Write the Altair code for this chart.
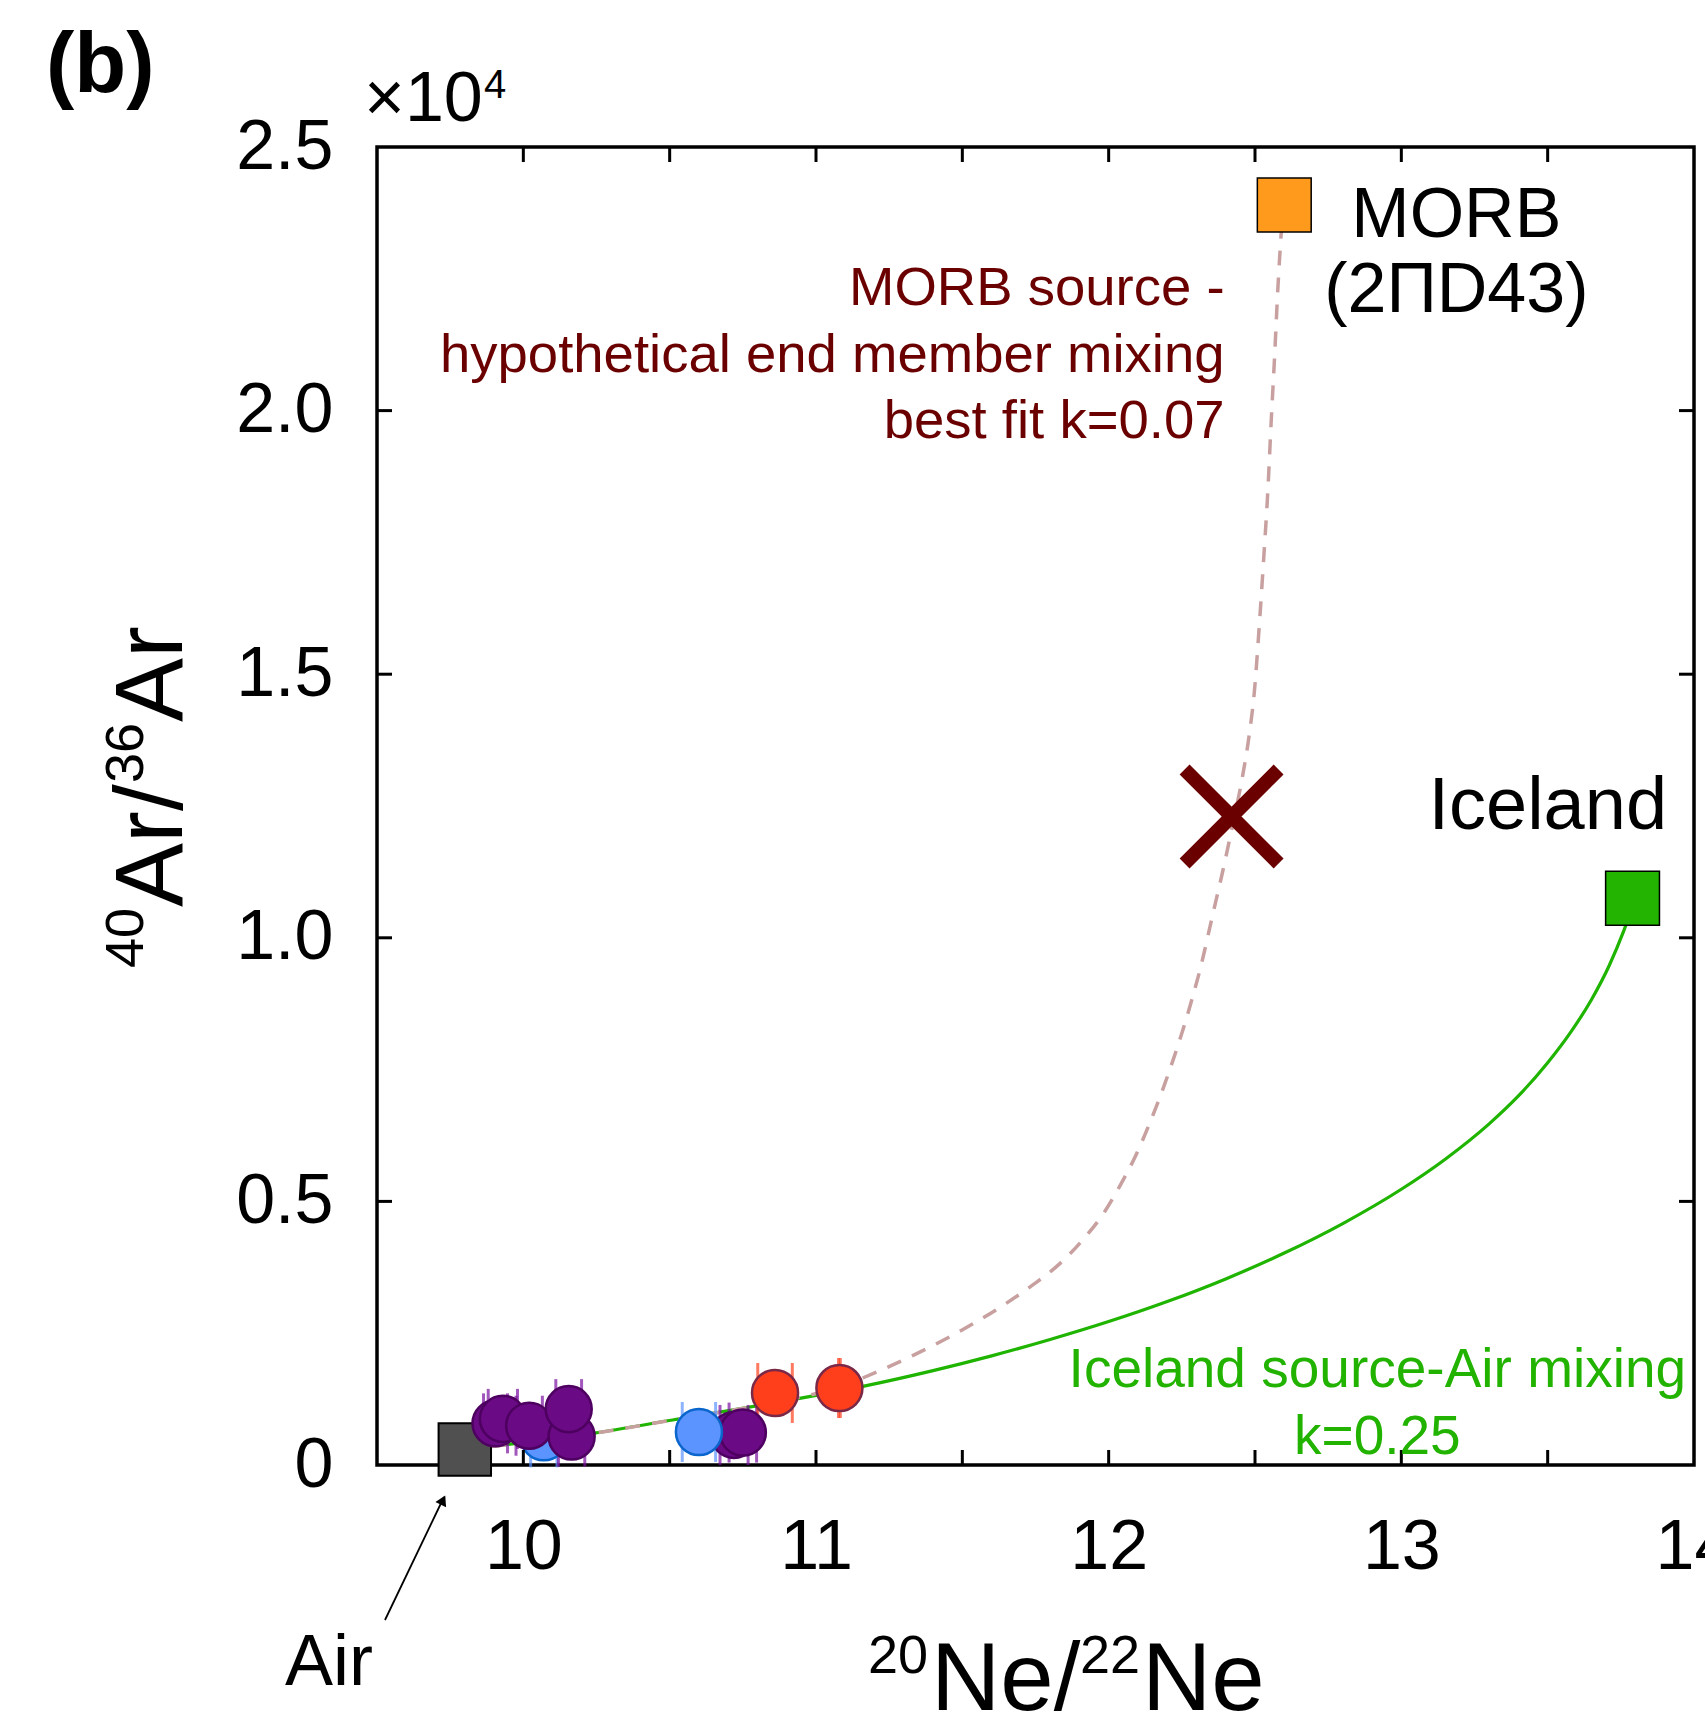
import altair as alt
import pandas as pd

FONT = "Liberation Sans"
L, T = 377, 147          # plot-area offset inside the 1705x1729 page
W, H = 1317, 1318        # plot-area size

# ---------------- data ----------------
# Iceland source - Air mixing curve (k = 0.25)
green_x = [9.80, 10.24, 10.51, 10.86, 11.16, 11.40, 11.60, 11.80, 12.00, 12.20,
           12.40, 12.60, 12.80, 13.00, 13.15, 13.30, 13.40, 13.50, 13.58, 13.65,
           13.71, 13.76, 13.80]
green_y = [296, 601, 853, 1180, 1491, 1790, 2070, 2380, 2720, 3100,
           3530, 4020, 4580, 5230, 5800, 6470, 7000, 7630, 8220, 8830,
           9470, 10130, 10750]

# MORB source - hypothetical end member mixing curve (k = 0.07)
dash_x = [9.80, 10.24, 10.51, 10.86, 11.08, 11.218, 11.332, 11.446, 11.537, 11.64,
          11.742, 11.833, 11.913, 11.981, 12.038, 12.095, 12.14, 12.174, 12.22, 12.254,
          12.288, 12.311, 12.356, 12.384, 12.424, 12.458, 12.479, 12.498, 12.515, 12.53,
          12.544, 12.555, 12.567, 12.578, 12.589, 12.597]
dash_y = [296, 601, 853, 1190, 1480, 1790, 2080, 2400, 2680, 3030,
          3420, 3820, 4280, 4760, 5290, 5900, 6480, 6960, 7680, 8260,
          8900, 9370, 10450, 11120, 12150, 13080, 13800, 14680, 15950, 17220,
          18490, 19760, 21030, 22300, 23317, 23900]

# samples (drawing order matters: later ones on top)
pt_group = ["blue", "purple", "purple", "purple", "purple", "purple",
            "purple", "purple", "blue", "red", "red"]
pt_x = [10.07, 9.905, 9.93, 10.02, 10.165, 10.155, 10.72, 10.75, 10.60, 10.86, 11.08]
pt_y = [525, 790, 875, 745, 540, 1060, 570, 615, 626, 1366, 1460]
pt_xerr = [0.045, 0.041, 0.05, 0.045, 0.045, 0.044, 0.048, 0.047, 0.057, 0.059, 0.003]

group_names = ["purple", "blue", "red"]
group_fill = ["#6a0a85", "#5b93ff", "#ff3f1c"]
group_edge = ["#4e0060", "#0a66cc", "#7a2848"]
group_cap = ["#7a10a0", "#5b93ff", "#ff3f1c"]

# end members
air_x, air_y = [9.80], [295.5]
iceland_x, iceland_y = [13.79], [10750]
morb_x, morb_y = [12.60], [23900]
hyp_x, hyp_y = [12.42], [12300]

x_label_values = [10, 11, 12, 13, 14]
x_tick_values = [10, 10.5, 11, 11.5, 12, 12.5, 13, 13.5]
y_tick_values = [0, 5000, 10000, 15000, 20000, 25000]
y_inner_ticks = [5000, 10000, 15000, 20000]

# in-plot annotations (data coordinates)
ann_center_text = ["MORB", "(2ПD43)", "Iceland source-Air mixing", "k=0.25"]
ann_center_x = [13.188, 13.188, 12.918, 12.918]
ann_center_y = [23293, 21870, 1480, 209]
ann_center_size = [70, 70, 55, 55]
ann_center_color = ["black", "black", "#22b300", "#22b300"]

ann_right_text = ["Iceland", "MORB source -", "hypothetical end member mixing",
                  "best fit k=0.07"]
ann_right_x = [13.908, 12.396, 12.396, 12.396]
ann_right_y = [12064, 21994, 20737, 19482]
ann_right_size = [74, 54.5, 54.5, 54.5]
ann_right_color = ["black", "#6b0000", "#6b0000", "#6b0000"]

# ---------------- frames ----------------
green_df = pd.DataFrame({"x": green_x, "y": green_y})
dash_df = pd.DataFrame({"x": dash_x, "y": dash_y})
pts_df = pd.DataFrame({"x": pt_x, "y": pt_y, "g": pt_group,
                       "i": list(range(len(pt_x)))})
cap_rows = []
for g, x, y, e in zip(pt_group, pt_x, pt_y, pt_xerr):
    cap_rows.append({"x": x - e, "y": y, "g": g})
    cap_rows.append({"x": x + e, "y": y, "g": g})
caps_df = pd.DataFrame(cap_rows)

xs = alt.Scale(domain=[9.5, 14], nice=False, zero=False)
ys = alt.Scale(domain=[0, 25000], nice=False, zero=False)

xax = alt.Axis(values=x_label_values, format="d", ticks=False, tickSize=0,
               domain=False, grid=False, labelFont=FONT, labelFontSize=70,
               labelColor="black", labelPadding=48, labelFlush=False,
               labelOverlap=False, title=None)
yax = alt.Axis(values=y_tick_values, ticks=False, tickSize=0, domain=False,
               grid=False, labelFont=FONT, labelFontSize=70, labelColor="black",
               labelPadding=44, labelFlush=False, labelOverlap=False, title=None,
               labelExpr="datum.value == 0 ? '0' : format(datum.value / 10000, '.1f')")


def X(f="x"):
    return alt.X(f"{f}:Q", scale=xs, axis=xax, title=None)


def Y(f="y"):
    return alt.Y(f"{f}:Q", scale=ys, axis=yax, title=None)


green_line = alt.Chart(green_df).mark_line(
    color="#1fb400", strokeWidth=3.2, interpolate="monotone").encode(x=X(), y=Y())
dash_line = alt.Chart(dash_df).mark_line(
    color="#c8a0a0", strokeWidth=3.5, strokeDash=[15, 12],
    interpolate="monotone").encode(x=X(), y=Y())

caps = alt.Chart(caps_df).mark_tick(orient="vertical", size=60, thickness=3).encode(
    x=X(), y=Y(),
    color=alt.Color("g:N", scale=alt.Scale(domain=group_names, range=group_cap),
                    legend=None))

air = alt.Chart(pd.DataFrame({"x": air_x, "y": air_y})).mark_point(
    shape="square", filled=True, size=2750, fill="#505050", stroke="black",
    strokeWidth=2, opacity=1).encode(x=X(), y=Y())

circles = alt.Chart(pts_df).mark_point(
    shape="circle", filled=True, size=2120, strokeWidth=2.5, opacity=1).encode(
    x=X(), y=Y(),
    fill=alt.Fill("g:N", scale=alt.Scale(domain=group_names, range=group_fill),
                  legend=None),
    stroke=alt.Stroke("g:N", scale=alt.Scale(domain=group_names, range=group_edge),
                      legend=None),
    order=alt.Order("i:Q"))

iceland = alt.Chart(pd.DataFrame({"x": iceland_x, "y": iceland_y})).mark_point(
    shape="square", filled=True, size=2900, fill="#22b400", stroke="black",
    strokeWidth=1.5, opacity=1).encode(x=X(), y=Y())
morb = alt.Chart(pd.DataFrame({"x": morb_x, "y": morb_y})).mark_point(
    shape="square", filled=True, size=2900, fill="#ff9a1c", stroke="black",
    strokeWidth=1.5, opacity=1).encode(x=X(), y=Y())
hyp = alt.Chart(pd.DataFrame({"x": hyp_x, "y": hyp_y})).mark_point(
    shape="M-1,-1L1,1M-1,1L1,-1", filled=False, size=8836, stroke="#6b0000",
    strokeWidth=14, opacity=1).encode(x=X(), y=Y())

# inward ticks on all four sides
xt_df = pd.DataFrame({"v": x_tick_values})
yt_df = pd.DataFrame({"v": y_inner_ticks})
tick_bottom = alt.Chart(xt_df).mark_rule(color="black", strokeWidth=3).encode(
    x=X("v"), y=alt.value(H), y2=alt.value(H - 15))
tick_top = alt.Chart(xt_df).mark_rule(color="black", strokeWidth=3).encode(
    x=X("v"), y=alt.value(0), y2=alt.value(15))
tick_left = alt.Chart(yt_df).mark_rule(color="black", strokeWidth=3).encode(
    y=Y("v"), x=alt.value(0), x2=alt.value(15))
tick_right = alt.Chart(yt_df).mark_rule(color="black", strokeWidth=3).encode(
    y=Y("v"), x=alt.value(W - 15), x2=alt.value(W))

# in-plot annotations
cdf = pd.DataFrame({"x": ann_center_x, "y": ann_center_y, "t": ann_center_text,
                    "fs": ann_center_size, "c": ann_center_color})
rdf = pd.DataFrame({"x": ann_right_x, "y": ann_right_y, "t": ann_right_text,
                    "fs": ann_right_size, "c": ann_right_color})
ann_center = alt.Chart(cdf).mark_text(font=FONT, align="center",
                                      baseline="alphabetic").encode(
    x=X(), y=Y(), text="t:N", size=alt.Size("fs:Q", scale=None),
    color=alt.Color("c:N", scale=None))
ann_right = alt.Chart(rdf).mark_text(font=FONT, align="right",
                                     baseline="alphabetic").encode(
    x=X(), y=Y(), text="t:N", size=alt.Size("fs:Q", scale=None),
    color=alt.Color("c:N", scale=None))


def ptext(text, px, py, size, align="left", angle=0, weight="normal", color="black"):
    return alt.Chart(pd.DataFrame({"t": [text]})).mark_text(
        font=FONT, fontSize=size, color=color, align=align, baseline="alphabetic",
        angle=angle, fontWeight=weight).encode(
        x=alt.value(px - L), y=alt.value(py - T), text="t:N")


labels = [
    ptext("(b)", 46, 92, 85, weight="bold"),
    ptext("×10", 364, 121, 70),
    ptext("4", 484, 98, 40),
    # x title: 20Ne/22Ne
    ptext("20", 868, 1673, 54),
    ptext("Ne/", 931, 1710, 96),
    ptext("22", 1080, 1673, 54),
    ptext("Ne", 1142, 1710, 96),
    # y title: 40Ar/36Ar (rotated)
    ptext("40", 143, 968, 54, angle=270),
    ptext("Ar/", 182, 907, 96, angle=270),
    ptext("36", 143, 783, 54, angle=270),
    ptext("Ar", 182, 722, 96, angle=270),
    ptext("Air", 285, 1685, 72),
]

arrow_line = alt.Chart(pd.DataFrame({"a": [0]})).mark_rule(
    color="black", strokeWidth=1.8).encode(
    x=alt.value(385 - L), y=alt.value(1620 - T),
    x2=alt.value(444 - L), y2=alt.value(1497 - T))
arrow_head = alt.Chart(pd.DataFrame({"a": [0]})).mark_point(
    shape="triangle-up", filled=True, size=140, color="black", angle=26,
    opacity=1).encode(x=alt.value(443 - L), y=alt.value(1500 - T))

chart = alt.layer(
    green_line, dash_line, caps, air, circles, iceland, morb, hyp,
    tick_bottom, tick_top, tick_left, tick_right,
    ann_center, ann_right, arrow_line, arrow_head, *labels
).properties(
    width=W, height=H,
    autosize=alt.AutoSizeParams(type="none"),
    padding={"left": L, "top": T, "right": 1705 - L - W, "bottom": 1729 - T - H},
    background="white",
).configure_view(stroke="black", strokeWidth=3.5)

chart.save("out.html", embed_options={"renderer": "svg", "actions": False})
